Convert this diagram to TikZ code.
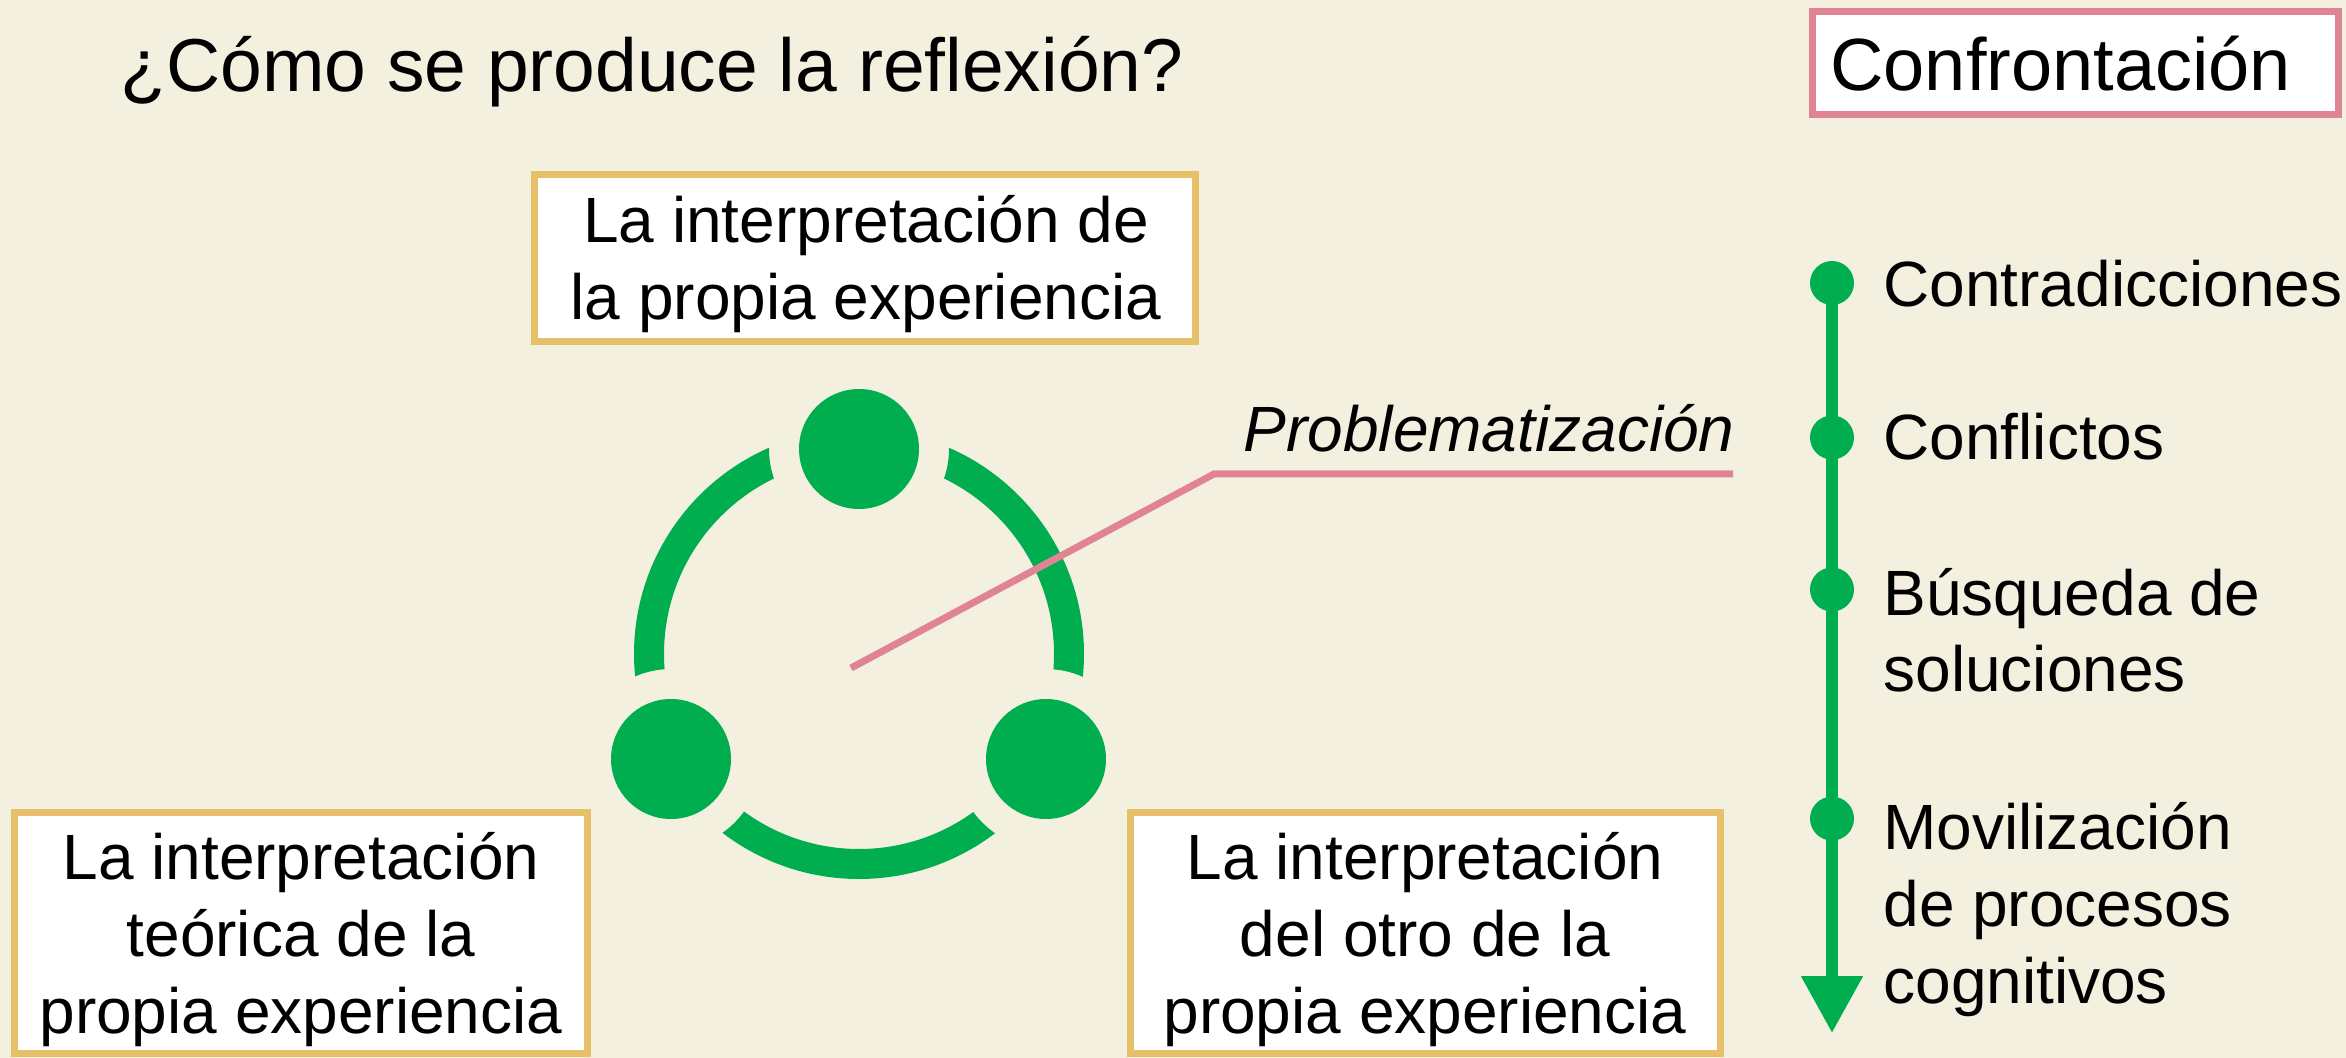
\documentclass[tikz,border=0pt]{standalone}
\usepackage{fontspec}
\setmainfont{Liberation Sans}
\usetikzlibrary{arrows.meta}
\definecolor{bg}{HTML}{F4F0E0}
\definecolor{grn}{HTML}{00AE50}
\definecolor{pnk}{HTML}{E08493}
\definecolor{gld}{HTML}{E6C16A}
\begin{document}
\begin{tikzpicture}[x=0.5pt,y=-0.5pt,
  ibox/.style={draw=gld,line width=3.5pt,fill=white,inner sep=0pt,rectangle},
  cbox/.style={draw=pnk,line width=3.5pt,fill=white,inner sep=0pt,rectangle},
  btext/.style={font=\fontsize{32pt}{38.5pt}\selectfont,align=center,inner sep=0pt},
  ltext/.style={font=\fontsize{32pt}{38.5pt}\selectfont,align=left,inner sep=0pt,anchor=base west},
  bigdot/.style={circle,fill=grn,inner sep=0pt,minimum size=60pt},
  smalldot/.style={circle,fill=grn,inner sep=0pt,minimum size=22pt},
  ring/.style={draw=grn,line width=15pt},
  tline/.style={draw=grn,line width=5.75pt,-{Triangle[width=29.5pt,length=28.5pt]}},
  pinkline/.style={draw=pnk,line width=3.5pt}
]
\useasboundingbox (0,0) rectangle (2346,1058);
\fill[bg] (0,0) rectangle (2346,1058);

% title
\node[font=\fontsize{37.5pt}{45pt}\selectfont,inner sep=0pt,anchor=base west] (title) at (120,92) {¿Cómo se produce la reflexión?};

% Confrontacion box
\node[cbox,minimum width=263pt,minimum height=51.5pt] (cbox) at (2075.5,63) {};
\node[font=\fontsize{37pt}{44pt}\selectfont,inner sep=0pt,anchor=base west] (ctext) at (1830,91) {Confrontación};

% interpretation boxes (base anchor = baseline of last line)
\node[ibox,minimum width=330.5pt,minimum height=83.5pt] (tbox) at (865,258) {};
\node[btext,anchor=base] (ttext) at (866,320) {La interpretación de\\la propia experiencia};
\node[ibox,minimum width=286.5pt,minimum height=120.5pt] (lbox) at (301,933) {};
\node[btext,anchor=base] (ltxt) at (301,1033) {La interpretación\\teórica de la\\propia experiencia};
\node[ibox,minimum width=295pt,minimum height=120.5pt] (rbox) at (1425.5,933) {};
\node[btext,anchor=base] (rtxt) at (1425,1033) {La interpretación\\del otro de la\\propia experiencia};

% cycle
\coordinate (rc) at (859,654);
\node[bigdot] (top) at (859,449) {};
\node[bigdot] (bl) at (671,759) {};
\node[bigdot] (br) at (1046,759) {};
\begin{scope}[even odd rule]
\clip (0,0) rectangle (2346,1058) (top.center) circle (90) (bl.center) circle (90) (br.center) circle (90);
\draw[ring] (rc) circle (210);
\end{scope}

% problematizacion
\coordinate (pc) at (851,668);
\coordinate (pk) at (1214,474);
\coordinate (pe) at (1733,474);
\draw[pinkline] (pc) -- (pk) -- (pe);
\node[font=\fontsize{32pt}{38.5pt}\selectfont\itshape,inner sep=0pt,anchor=base east] (prob) at (1735,452) {Problematización};

% timeline
\coordinate (tip) at (1832,1033);
\draw[tline] (1832,283) -- (tip);
\node[smalldot] (d1) at (1832,283) {};
\node[smalldot] (d2) at (1832,437.5) {};
\node[smalldot] (d3) at (1832,589.5) {};
\node[smalldot] (d4) at (1832,818.6) {};
\node[ltext] (l1) at (1883,307) {Contradicciones};
\node[ltext] (l2) at (1883,460) {Conflictos};
\node[ltext] (l3) at (1883,692) {Búsqueda de\\soluciones};
\node[ltext] (l4) at (1883,1003) {Movilización\\de procesos\\cognitivos};
\end{tikzpicture}
\end{document}
